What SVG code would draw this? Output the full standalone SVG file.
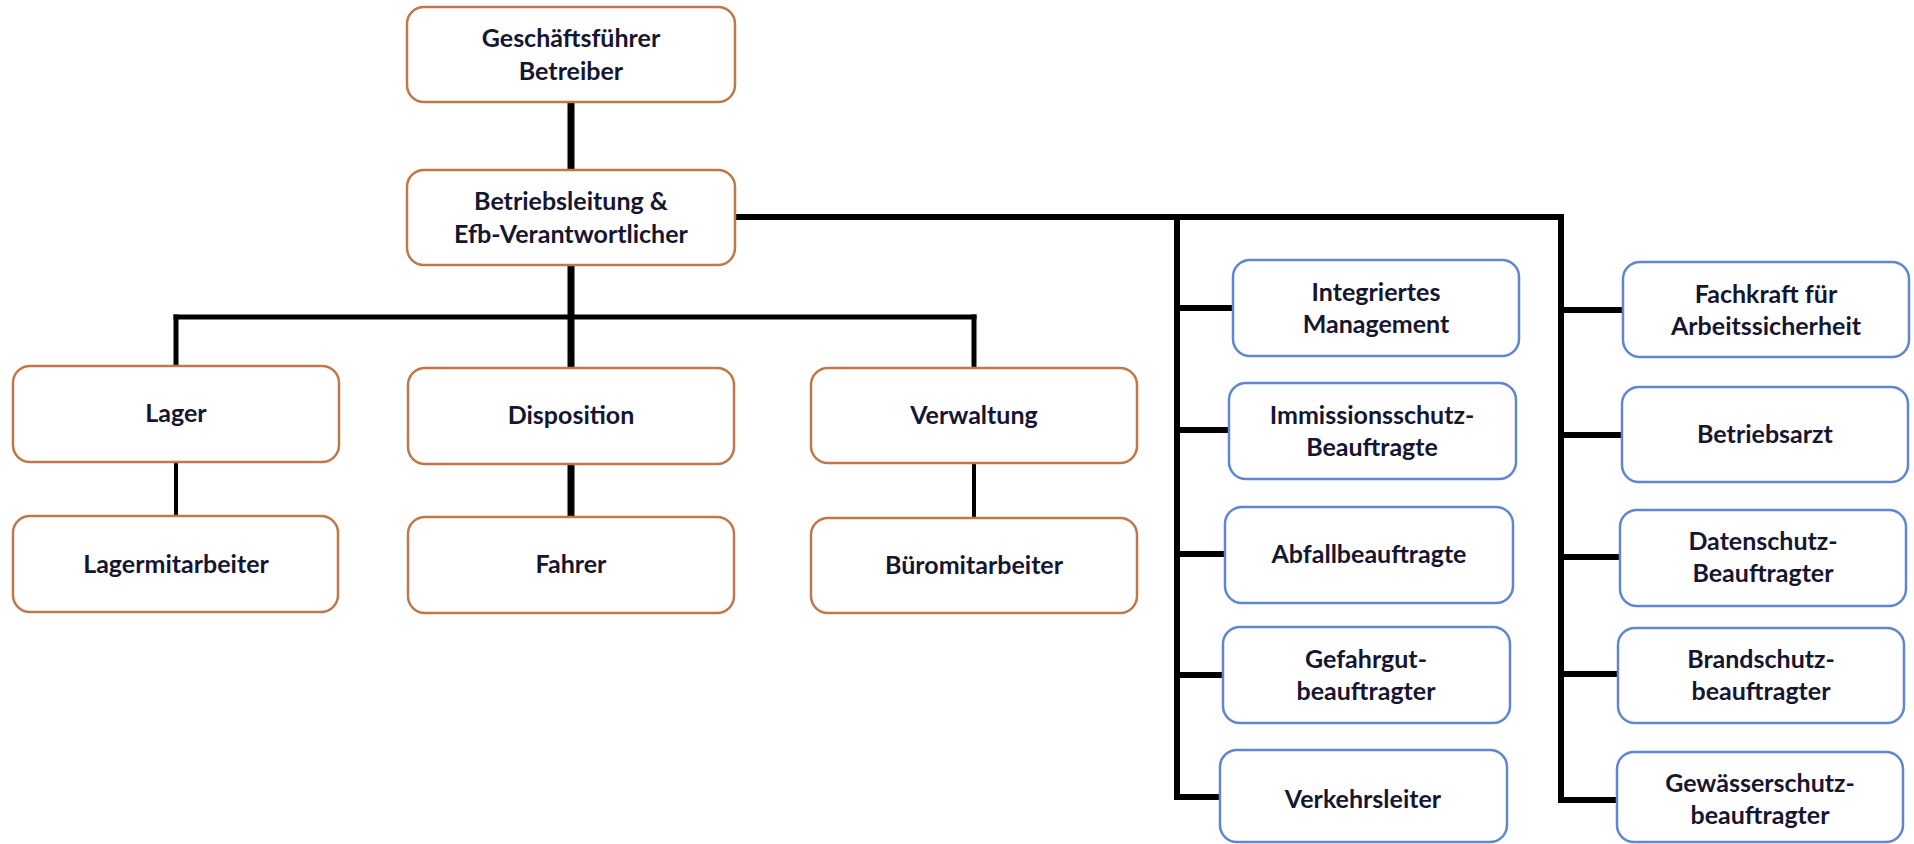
<svg xmlns="http://www.w3.org/2000/svg" width="1914" height="844" viewBox="0 0 1914 844">
<style>
.o{fill:#fff;stroke:#C0784A;stroke-width:2.5}
.b{fill:#fff;stroke:#5F86CF;stroke-width:2.5}
text{font-family:Lato,"Liberation Sans",sans-serif;font-weight:bold;font-size:25px;fill:#161630;text-anchor:middle}
.c line{stroke:#000;stroke-linecap:square}
</style>
<rect width="1914" height="844" fill="#fff"/>
<g class="c" id="connectors">
<line x1="571" y1="102" x2="571" y2="170" stroke-width="7"/>
<line x1="571" y1="265" x2="571" y2="368" stroke-width="7"/>
<line x1="176" y1="317" x2="974" y2="317" stroke-width="5"/>
<line x1="176" y1="317" x2="176" y2="366" stroke-width="5"/>
<line x1="974" y1="317" x2="974" y2="368" stroke-width="5"/>
<line x1="176" y1="462" x2="176" y2="516" stroke-width="4"/>
<line x1="571" y1="464" x2="571" y2="517" stroke-width="7"/>
<line x1="974" y1="463" x2="974" y2="518" stroke-width="4"/>
<line x1="735" y1="217" x2="1561" y2="217" stroke-width="6"/>
<line x1="1177" y1="217" x2="1177" y2="797" stroke-width="6"/>
<line x1="1177" y1="308" x2="1233" y2="308" stroke-width="6"/>
<line x1="1177" y1="430" x2="1229" y2="430" stroke-width="6"/>
<line x1="1177" y1="554" x2="1225" y2="554" stroke-width="6"/>
<line x1="1177" y1="675" x2="1223" y2="675" stroke-width="6"/>
<line x1="1177" y1="797" x2="1220" y2="797" stroke-width="6"/>
<line x1="1561" y1="217" x2="1561" y2="800" stroke-width="6"/>
<line x1="1561" y1="310" x2="1623" y2="310" stroke-width="6"/>
<line x1="1561" y1="435" x2="1622" y2="435" stroke-width="6"/>
<line x1="1561" y1="557" x2="1620" y2="557" stroke-width="6"/>
<line x1="1561" y1="674" x2="1618" y2="674" stroke-width="6"/>
<line x1="1561" y1="800" x2="1617" y2="800" stroke-width="6"/>
</g>
<g id="geschaeftsfuehrer"><rect class="o" x="407" y="7" width="328" height="95" rx="17"/><text x="571" y="47">Geschäftsführer</text><text x="571" y="80">Betreiber</text></g>
<g id="betriebsleitung"><rect class="o" x="407" y="170" width="328" height="95" rx="17"/><text x="571" y="210">Betriebsleitung &amp;</text><text x="571" y="243">Efb-Verantwortlicher</text></g>
<g id="lager"><rect class="o" x="13" y="366" width="326" height="96" rx="17"/><text x="176" y="422">Lager</text></g>
<g id="disposition"><rect class="o" x="408" y="368" width="326" height="96" rx="17"/><text x="571" y="424">Disposition</text></g>
<g id="verwaltung"><rect class="o" x="811" y="368" width="326" height="95" rx="17"/><text x="974" y="424">Verwaltung</text></g>
<g id="lagermitarbeiter"><rect class="o" x="13" y="516" width="325" height="96" rx="17"/><text x="176" y="573">Lagermitarbeiter</text></g>
<g id="fahrer"><rect class="o" x="408" y="517" width="326" height="96" rx="17"/><text x="571" y="573">Fahrer</text></g>
<g id="bueromitarbeiter"><rect class="o" x="811" y="518" width="326" height="95" rx="17"/><text x="974" y="574">Büromitarbeiter</text></g>
<g id="integriertes"><rect class="b" x="1233" y="260" width="286" height="96" rx="17"/><text x="1376" y="301">Integriertes</text><text x="1376" y="333">Management</text></g>
<g id="immissionsschutz"><rect class="b" x="1229" y="383" width="287" height="96" rx="17"/><text x="1372" y="424">Immissionsschutz-</text><text x="1372" y="456">Beauftragte</text></g>
<g id="abfall"><rect class="b" x="1225" y="507" width="288" height="96" rx="17"/><text x="1369" y="563">Abfallbeauftragte</text></g>
<g id="gefahrgut"><rect class="b" x="1223" y="627" width="287" height="96" rx="17"/><text x="1366" y="668">Gefahrgut-</text><text x="1366" y="700">beauftragter</text></g>
<g id="verkehrsleiter"><rect class="b" x="1220" y="750" width="287" height="92" rx="17"/><text x="1363" y="808">Verkehrsleiter</text></g>
<g id="fachkraft"><rect class="b" x="1623" y="262" width="286" height="95" rx="17"/><text x="1766" y="303">Fachkraft für</text><text x="1766" y="335">Arbeitssicherheit</text></g>
<g id="betriebsarzt"><rect class="b" x="1622" y="387" width="286" height="95" rx="17"/><text x="1765" y="443">Betriebsarzt</text></g>
<g id="datenschutz"><rect class="b" x="1620" y="510" width="286" height="96" rx="17"/><text x="1763" y="550">Datenschutz-</text><text x="1763" y="582">Beauftragter</text></g>
<g id="brandschutz"><rect class="b" x="1618" y="628" width="286" height="95" rx="17"/><text x="1761" y="668">Brandschutz-</text><text x="1761" y="700">beauftragter</text></g>
<g id="gewaesserschutz"><rect class="b" x="1617" y="752" width="286" height="90" rx="17"/><text x="1760" y="792">Gewässerschutz-</text><text x="1760" y="824">beauftragter</text></g>
</svg>
